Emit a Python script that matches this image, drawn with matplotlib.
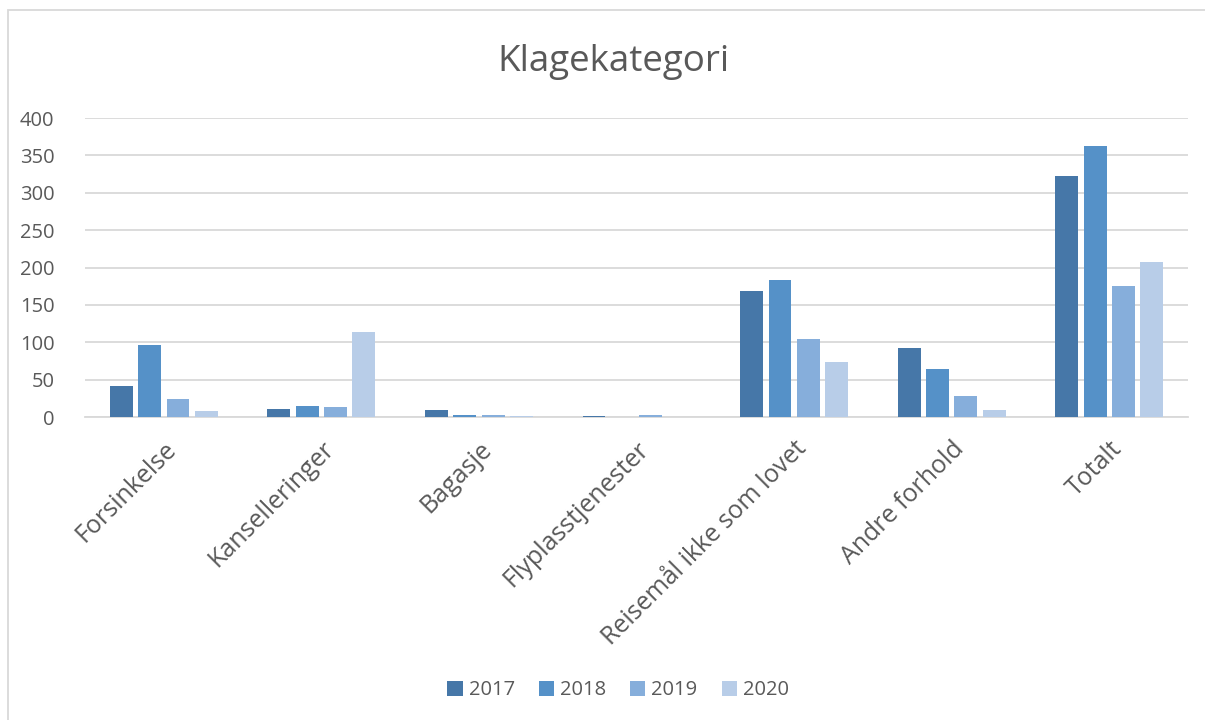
import numpy as np
import matplotlib.pyplot as plt
from matplotlib.patches import Rectangle

plt.rcParams['font.family'] = ['Open Sans', 'DejaVu Sans']

# --- data ---
kategorier = ['Forsinkelse', 'Kanselleringer', 'Bagasje', 'Flyplasstjenester',
              'Reisemål ikke som lovet', 'Andre forhold', 'Totalt']
aar = ['2017', '2018', '2019', '2020']
v2017 = [42, 11, 9, 1, 168, 92, 323]
v2018 = [96, 15, 3, 0, 184, 64, 363]
v2019 = [24, 13, 3, 3, 104, 28, 175]
v2020 = [8, 114, 2, 0, 74, 10, 208]
serier = [v2017, v2018, v2019, v2020]
farger = ['#4677a8', '#5591c8', '#86aedb', '#b8cde8']

tekst = '#595959'
grid = '#d9d9d9'

fig = plt.figure(figsize=(12.05, 7.2), dpi=100)
ax = fig.add_axes([0.0705, 0.4208, 0.9155, 0.4152])

x = np.arange(len(kategorier))
steg = 0.18
for i, (verdier, farge, lab) in enumerate(zip(serier, farger, aar)):
    ax.bar(x + (i - 1.5) * steg, verdier, width=0.145, color=farge, label=lab, zorder=3)

ax.set_xlim(-0.5, len(kategorier) - 0.5)
ax.set_ylim(0, 400)
ax.set_yticks(range(0, 401, 50))
ax.yaxis.grid(True, color=grid, linewidth=1.3, zorder=0)
ax.tick_params(axis='y', length=0, pad=22, labelsize=14.5, labelcolor=tekst)
ax.tick_params(axis='x', length=0, pad=14)
ax.set_xticks(x)
ax.set_xticklabels(kategorier, rotation=45, ha='right', rotation_mode='anchor',
                   fontsize=18, color=tekst)
for s in ['top', 'right', 'left']:
    ax.spines[s].set_visible(False)
ax.spines['bottom'].set_color(grid)
ax.spines['bottom'].set_linewidth(1.3)

fig.text(0.509, 0.914, 'Klagekategori', ha='center', va='center', fontsize=26.5, color=tekst)

fig.legend(loc='center', bbox_to_anchor=(0.513, 0.041), ncol=4, frameon=False,
           fontsize=14.5, labelcolor=tekst, handlelength=0.75, handleheight=0.75,
           handletextpad=0.3, columnspacing=1.2)

# chart area border
fig.patches.append(Rectangle((8 / 1205, -0.1), 1.2, 1 - 10 / 720 + 0.1,
                             transform=fig.transFigure, fill=False,
                             edgecolor='#d9d9d9', linewidth=1.3))

fig.savefig('out.png', dpi=100)
